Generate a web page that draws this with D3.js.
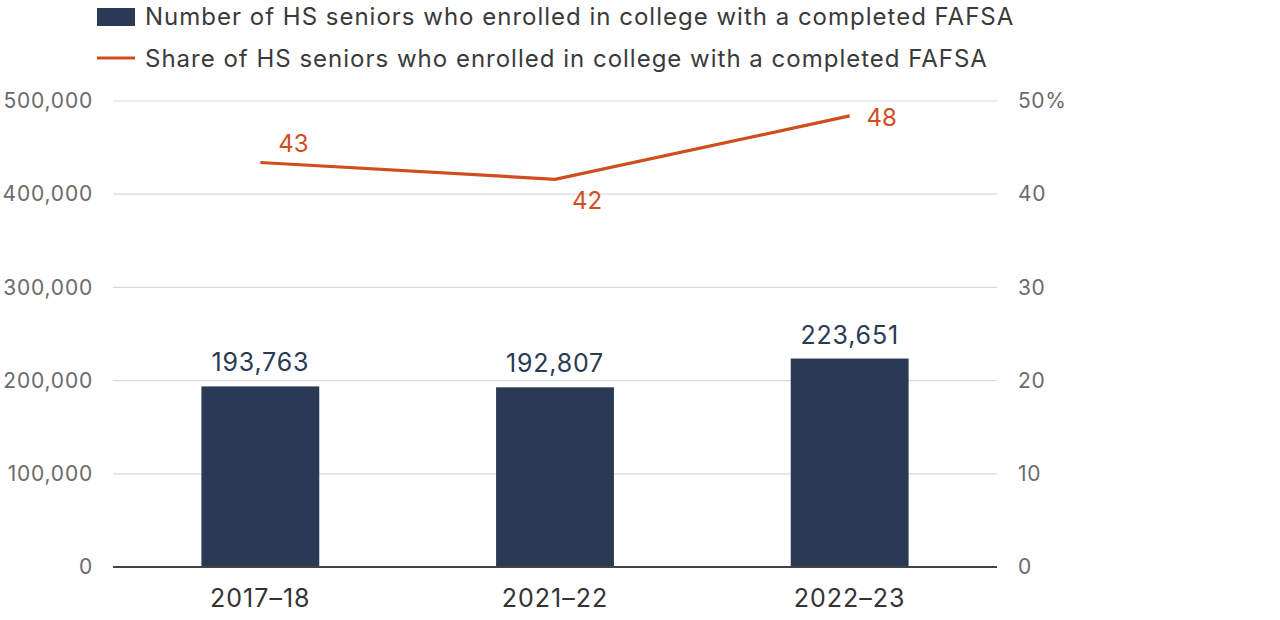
<!DOCTYPE html>
<html><head><meta charset="utf-8">
<script src="https://cdn.jsdelivr.net/npm/d3@7"></script>
<style>
body{margin:0;background:#fff;}
text{font-family:Inter,Lato,sans-serif;}
</style></head>
<body><svg id="c" width="1280" height="620"></svg>
<script>
const categories = ["2017–18","2021–22","2022–23"];
const enrolled = [193763,192807,223651];
const share = [43.4,41.6,48.4];
const leftTicks = [0,100000,200000,300000,400000,500000];
const rightTicks = [0,10,20,30,40,50];
const legendLabels = ["Number of HS seniors who enrolled in college with a completed FAFSA","Share of HS seniors who enrolled in college with a completed FAFSA"];

const FF="Inter,Lato,sans-serif";
const navy="#2a3a55", orange="#d04e1d";
const svg=d3.select("#c");
const L=113,R=997,T=101,B=567;
const x=d3.scaleBand().domain(categories).range([L,R]).paddingInner(0.6).paddingOuter(0.3);
const y=d3.scaleLinear().domain([0,500000]).range([B,T]);
const y2=d3.scaleLinear().domain([0,50]).range([B,T]);

// gridlines
svg.append("g").selectAll("line").data(leftTicks.filter(d=>d>0)).join("line")
 .attr("x1",L).attr("x2",R).attr("y1",d=>y(d)).attr("y2",d=>y(d))
 .attr("stroke","#d9d9d9").attr("stroke-width",1.2);

// left axis
const la=svg.append("g").attr("transform",`translate(${L},0)`)
 .call(d3.axisLeft(y).tickValues(leftTicks).tickFormat(d3.format(",")).tickSize(0).tickPadding(20));
la.select(".domain").remove();
la.selectAll("text").attr("font-size",21).attr("fill","#6b6b6b").attr("font-family",FF).attr("letter-spacing",0.8);

// right axis
const ra=svg.append("g").attr("transform",`translate(${R},0)`)
 .call(d3.axisRight(y2).tickValues(rightTicks).tickFormat(d=>d===50?d+"%":d).tickSize(0).tickPadding(21));
ra.select(".domain").remove();
ra.selectAll("text").attr("font-size",21).attr("fill","#6b6b6b").attr("font-family",FF).attr("letter-spacing",0.6);

// bars
svg.append("g").selectAll("rect").data(enrolled).join("rect")
 .attr("x",(d,i)=>x(categories[i])).attr("width",x.bandwidth())
 .attr("y",d=>y(d)).attr("height",d=>B-y(d)).attr("fill",navy);

svg.append("g").selectAll("text").data(enrolled).join("text")
 .attr("x",(d,i)=>x(categories[i])+x.bandwidth()/2).attr("y",d=>y(d)-15)
 .attr("text-anchor","middle").attr("font-size",25).attr("fill",navy).attr("letter-spacing",0.8)
 .text(d=>d3.format(",")(d));

// baseline
svg.append("line").attr("x1",L).attr("x2",R).attr("y1",B).attr("y2",B)
 .attr("stroke","#444").attr("stroke-width",2);

// x axis labels
const xa=svg.append("g").attr("transform",`translate(0,${B})`)
 .call(d3.axisBottom(x).tickSize(0).tickPadding(22));
xa.select(".domain").remove();
xa.selectAll("text").attr("font-size",25).attr("fill","#333").attr("font-family",FF).attr("dy","0.71em").attr("letter-spacing",1);

// line
const cx=i=>x(categories[i])+x.bandwidth()/2;
svg.append("path").datum(share)
 .attr("d",d3.line().x((d,i)=>cx(i)).y(d=>y2(d)))
 .attr("fill","none").attr("stroke",orange).attr("stroke-width",3.2);

const offs=[[33,-19],[32,21],[32,2]];
svg.append("g").selectAll("text").data(share).join("text")
 .attr("x",(d,i)=>cx(i)+offs[i][0]).attr("y",(d,i)=>y2(d)+offs[i][1])
 .attr("dy","0.35em").attr("text-anchor","middle").attr("font-size",24).attr("fill",orange)
 .text(d=>Math.round(d));

// legend
const lg=svg.append("g");
lg.append("rect").attr("x",97).attr("y",8).attr("width",38).attr("height",18).attr("fill",navy);
lg.append("line").attr("x1",97).attr("x2",135).attr("y1",58).attr("y2",58).attr("stroke",orange).attr("stroke-width",3);
lg.selectAll("text").data(legendLabels).join("text")
 .attr("x",145).attr("y",(d,i)=>17+i*42).attr("dy","0.35em")
 .attr("font-size",24).attr("letter-spacing",1).attr("fill","#3a3a3a").text(d=>d);
</script></body></html>
